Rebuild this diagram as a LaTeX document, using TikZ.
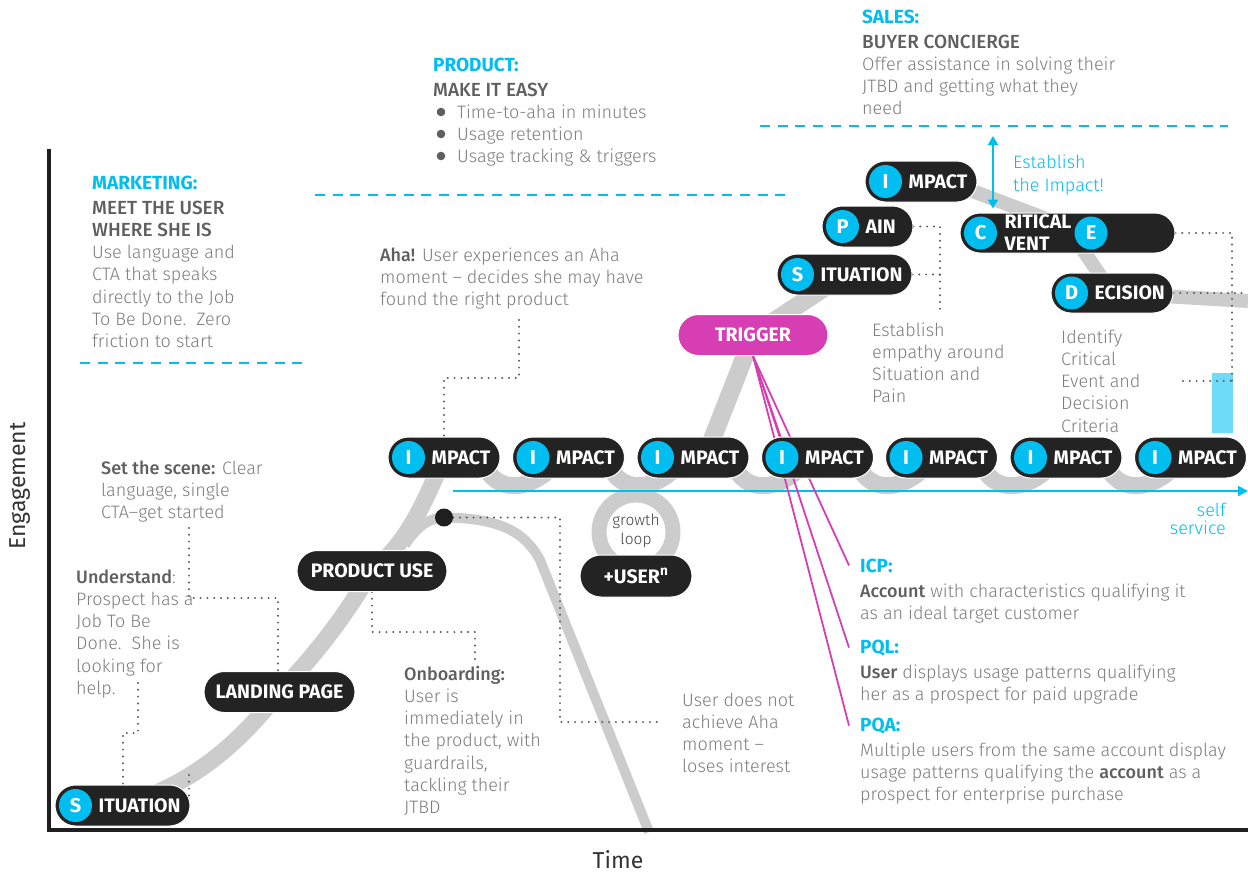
\documentclass[tikz,border=0pt]{standalone}
\usepackage{fontspec}
\usetikzlibrary{shapes.misc,arrows.meta,calc}
\IfFontExistsTF{Fira Sans Light}
 {\IfFontExistsTF{Fira Sans Medium}
   {\setmainfont{Fira Sans Light}[BoldFont={Fira Sans Medium}]}
   {\setmainfont{Fira Sans Light}[BoldFont={Fira Sans}]}}
 {\setmainfont{Fira Sans}}
\newfontfamily\pillfont{Fira Sans}
\newfontfamily\axisfont{Fira Sans}

\definecolor{cyanB}{RGB}{0,190,240}
\definecolor{bandc}{RGB}{204,204,204}
\definecolor{pillc}{RGB}{35,35,35}
\definecolor{txt}{RGB}{125,125,125}
\definecolor{hd}{RGB}{95,95,95}
\definecolor{mag}{RGB}{216,62,180}
\definecolor{dotc}{RGB}{90,90,90}
\definecolor{lblue}{RGB}{110,220,248}

\pgfdeclarelayer{bands}
\pgfdeclarelayer{links}
\pgfsetlayers{bands,links,main}

\newcommand\tl[1]{\begin{tabular}[t]{@{}l@{}}#1\end{tabular}}
\newcommand\hb[1]{\textcolor{hd}{\textbf{#1}}}
\newcommand\hbig[1]{\textcolor{hd}{\textbf{\fontsize{19}{22.3}\selectfont #1}}}
\newcommand\bpill[6]{%
  \node[pill, minimum width=#4pt] (#1) at (#2,#3) {};
  \node[badge] (#1-b) at ($(#1.west)+(21,0)$) {#5};
  \node[ptxt] (#1-t) at ($(#1.west)+(44,0)$) {#6};}

\begin{document}
\begin{tikzpicture}[x=1pt,y=-1pt,
  body/.style={font=\fontsize{18}{22.3}\selectfont, text=txt, inner sep=0pt, anchor=base west},
  head/.style={font=\pillfont\bfseries\fontsize{19}{22}\selectfont, text=cyanB, inner sep=0pt, anchor=base west},
  pill/.style={rounded rectangle, fill=pillc, draw=white, line width=1pt, minimum height=41pt, inner sep=0pt},
  badge/.style={circle, fill=cyanB, minimum size=33pt, inner sep=0pt, text=white, font=\pillfont\bfseries\fontsize{20}{20}\selectfont},
  ptxt/.style={text=white, inner sep=0pt, anchor=west, font=\pillfont\bfseries\fontsize{19.5}{22}\selectfont},
  ctxt/.style={text=white, inner sep=0pt, font=\pillfont\bfseries\fontsize{19.5}{22}\selectfont},
  bandln/.style={draw=bandc, line join=round},
  dots/.style={draw=dotc, line width=2.2pt, line cap=round, dash pattern=on 0pt off 6.8pt},
  sep/.style={draw=cyanB, line width=2.3pt, dash pattern=on 10pt off 7.7pt},
  magln/.style={draw=mag, line width=1.8pt},
  axislbl/.style={font=\axisfont\fontsize{23}{23}\selectfont, text=black!80, inner sep=0pt},
]
\useasboundingbox (0,0) rectangle (1248,876);

% axes
\coordinate (ytop) at (49,149);
\coordinate (origin) at (49,830);
\coordinate (xend) at (1248,830);
\draw[line width=4pt, draw=black!88] (ytop) -- (origin) -- (xend);
\node[axislbl, rotate=90] (eng) at (20,486) {Engagement};
\node[axislbl] (time) at (618,860) {Time};

% section separators
\coordinate (mkL) at (80,363);   \coordinate (mkR) at (310,363);
\coordinate (prL) at (315,195);  \coordinate (prR) at (785,195);
\coordinate (slL) at (760,126);  \coordinate (slR) at (1228,126);
\draw[sep] (mkL) -- (mkR);
\draw[sep] (prL) -- (prR);
\draw[sep] (slL) -- (slR);

% section texts
\node[head] (mkh) at (92,189) {MARKETING:};
\node[body] (mk) at (92,214) {\tl{\hbig{MEET THE USER}\\ \hbig{WHERE SHE IS}\\ Use language and\\ CTA that speaks\\ directly to the Job\\ To Be Done.\ \ Zero\\ friction to start}};

\node[head] (prh) at (433,71) {PRODUCT:};
\node[body] (pr) at (433,96) {\hbig{MAKE IT EASY}};
\node[body] (pr1) at (457,118) {Time-to-aha in minutes};
\node[body] (pr2) at (457,140) {Usage retention};
\node[body] (pr3) at (457,162) {Usage tracking \& triggers};
\fill[hd] (441,112) circle (4.3) (441,134) circle (4.3) (441,156) circle (4.3);

\node[head] (slh) at (862,23) {SALES:};
\node[body] (sl) at (862,48) {\tl{\hbig{BUYER CONCIERGE}\\ Offer assistance in solving their\\ JTBD and getting what they\\ need}};

% annotations
\node[body] (aha) at (380,261) {\tl{\hb{Aha!} User experiences an Aha\\ moment -- decides she may have\\ found the right product}};
\node[body] (scene) at (101,474) {\tl{\hb{Set the scene:} Clear\\ language, single\\ CTA--get started}};
\node[body] (und) at (76,583) {\tl{\hb{Understand}:\\ Prospect has a\\ Job To Be\\ Done.\ \ She is\\ looking for\\ help.}};
\node[body] (onb) at (404,680) {\tl{\hb{Onboarding:}\\ User is\\ immediately in\\ the product, with\\ guardrails,\\ tackling their\\ JTBD}};
\node[body] (lose) at (682,706) {\tl{User does not\\ achieve Aha\\ moment --\\ loses interest}};
\node[body] (emp) at (872,336) {\tl{Establish\\ empathy around\\ Situation and\\ Pain}};
\node[body] (idc) at (1061,343) {\tl{Identify\\ Critical\\ Event and\\ Decision\\ Criteria}};

\node[head] (icp) at (860,572) {ICP:};
\node[body] (icpt) at (860,597) {\tl{\hb{Account} with characteristics qualifying it\\ as an ideal target customer}};
\node[head] (pql) at (860,653) {PQL:};
\node[body] (pqlt) at (860,678) {\tl{\hb{User} displays usage patterns qualifying\\ her as a prospect for paid upgrade}};
\node[head] (pqa) at (860,731) {PQA:};
\node[body] (pqat) at (860,756) {\tl{Multiple users from the same account display\\ usage patterns qualifying the \hb{account} as a\\ prospect for enterprise purchase}};

\node[body, text=cyanB, font=\fontsize{18}{23}\selectfont] (est) at (1013,168) {\tl{Establish\\ the Impact!}};
\node[body, text=cyanB, anchor=base east, font=\fontsize{18}{15.5}\selectfont] (self) at (1226,516) {\begin{tabular}[t]{@{}r@{}}self\\ service\end{tabular}};

% pills
\bpill{sit1}{122.5}{805.5}{135}{S}{ITUATION}
\node[pill, minimum width=151pt] (land) at (279.5,692) {};
\node[ctxt] (land-t) at (land.center) {LANDING PAGE};
\node[pill, minimum width=150pt] (pu) at (372,571) {};
\node[ctxt] (pu-t) at (pu.center) {PRODUCT USE};

\bpill{i1}{444}{457.5}{112}{I}{MPACT}
\bpill{i2}{568.5}{457.5}{112}{I}{MPACT}
\bpill{i3}{693}{457.5}{112}{I}{MPACT}
\bpill{i4}{817.5}{457.5}{112}{I}{MPACT}
\bpill{i5}{941.5}{457.5}{112}{I}{MPACT}
\bpill{i6}{1066}{457.5}{112}{I}{MPACT}
\bpill{i7}{1190.5}{457.5}{112}{I}{MPACT}

\node[pill, minimum width=112pt, minimum height=42pt] (user) at (636,576) {};
\node[ctxt] (user-t) at (user.center) {+USER\textsuperscript{n}};
\node[text=black!75, inner sep=0pt, anchor=base, font=\fontsize{15.5}{19}\selectfont] (loop) at (636,525) {\begin{tabular}[t]{@{}c@{}}growth\\ loop\end{tabular}};

\node[pill, fill=mag, minimum width=150pt] (trig) at (753,335) {};
\node[ctxt] (trig-t) at (trig.center) {TRIGGER};

\bpill{sitU}{844.5}{274.5}{135}{S}{ITUATION}
\bpill{pain}{867.5}{226.5}{91}{P}{AIN}
\bpill{iU}{921}{181.5}{112}{I}{MPACT}
\node[pill, minimum width=215pt, minimum height=40pt] (ce) at (1067.5,233) {};
\node[badge] (ce-b) at ($(ce.west)+(21,0)$) {C};
\node[ptxt, align=left] (ce-t) at ($(ce.west)+(45,0)$) {RITICAL\\VENT};
\node[badge] (ce-e) at ($(ce.west)+(131.5,0)$) {E};
\node[pill, minimum width=122pt, minimum height=40pt] (dec) at (1112,293) {};
\node[badge] (dec-b) at ($(dec.west)+(21,0)$) {D};
\node[ptxt] (dec-t) at ($(dec.west)+(44,0)$) {ECISION};

\node[circle, fill=black!88, minimum size=18pt, inner sep=0pt] (dot) at (444,517.5) {};

% engagement ribbon
\begin{pgfonlayer}{bands}
\fill[lblue] (1212,373) rectangle (1233,433);
\draw[bandln, line width=17pt] (sit1.center) .. controls (190,785) and (235,748) .. (land.center)
  .. controls (320,650) and (345,615) .. (pu.center)
  .. controls (410,540) and (425,500) .. (i1.center);
\coordinate (fork) at (405,545);
\draw[bandln, line width=10pt] (fork) .. controls (418,525) and (430,518) .. (dot.center);
\coordinate (dropEnd) at (649,832);
\draw[bandln, line width=10pt] (dot.center) .. controls (500,518) and (525,532) .. (540,560) -- (dropEnd);
\foreach \a/\b in {i1/i2,i2/i3,i3/i4,i4/i5,i5/i6,i6/i7}{
  \draw[bandln, line width=17pt] ($(\a.east)+(-16,8)$) .. controls ($(\a.east)+(-4,34)$) and ($(\b.west)+(14,36)$) .. ($(\b.west)+(42,8)$);
}
\coordinate (ringC) at ($(user.center)+(0,-44)$);
\draw[bandln, line width=15pt] (ringC) circle (37);
\draw[bandln, line width=18pt] ($(i3.center)+(12,0)$) -- (trig.center) -- (sitU.center);
\draw[bandln, line width=14pt] ($(iU.center)+(0,-10)$) -- ($(ce.center)+(0,-6)$) -- (dec.center) -- (1248,301);
\end{pgfonlayer}

% connectors
\begin{pgfonlayer}{links}
\coordinate (ssL) at (453,491);
\coordinate (ssR) at (1248,491);
\draw[draw=cyanB, line width=2pt, -{Triangle[length=10pt,width=10pt]}] (ssL) -- (ssR);
\coordinate (estTop) at (993,136);
\draw[draw=cyanB, line width=2pt, {Triangle[length=9pt,width=10pt]}-{Triangle[length=9pt,width=10pt]}, shorten >=4pt] (estTop) -- (estTop |- ce.north);

\draw[magln] (trig.south) -- ($(icp.west)+(-11,0)$);
\draw[magln] (trig.south) -- ($(pql.west)+(-11,0)$);
\draw[magln] (trig.south) -- ($(pqa.west)+(-11,0)$);
\draw[magln] (trig.south) -- ($(i4.north)+(-37,0)$);

\coordinate (d1a) at (189,528); \coordinate (d1b) at (278,598);
\draw[dots] (d1a) |- (d1b) -- (d1b |- land.north);
\coordinate (d2a) at (138,683); \coordinate (d2b) at (123,733);
\draw[dots] (d2a) |- (d2b) -- (d2b |- sit1.north);
\coordinate (d3a) at (189,775); \coordinate (d3b) at (189,797);
\draw[dots] (d3a) -- (d3b);
\coordinate (d4) at (475,632);
\draw[dots] (pu.south) |- (d4) -- (d4 |- onb.north);
\coordinate (d5a) at (519,320); \coordinate (d5b) at (444,378);
\draw[dots] (d5a) |- (d5b) -- (i1.north);
\coordinate (d6a) at (560,517.5); \coordinate (d6b) at (660,722);
\draw[dots] (dot.east) -- (d6a) |- (d6b);
\coordinate (d7) at (940,315);
\draw[dots] (pain.east) -| (d7);
\draw[dots] (sitU.east) -- (sitU.east -| d7);
\coordinate (d9) at (1232,383);
\draw[dots] (ce.east) -| (d9);
\coordinate (d10) at (1248,293);
\draw[dots] (dec.east) -- (d10);
\coordinate (d11) at (1183,381);
\draw[dots] (d11) -- (d11 -| d9);
\end{pgfonlayer}
\end{tikzpicture}
\end{document}
